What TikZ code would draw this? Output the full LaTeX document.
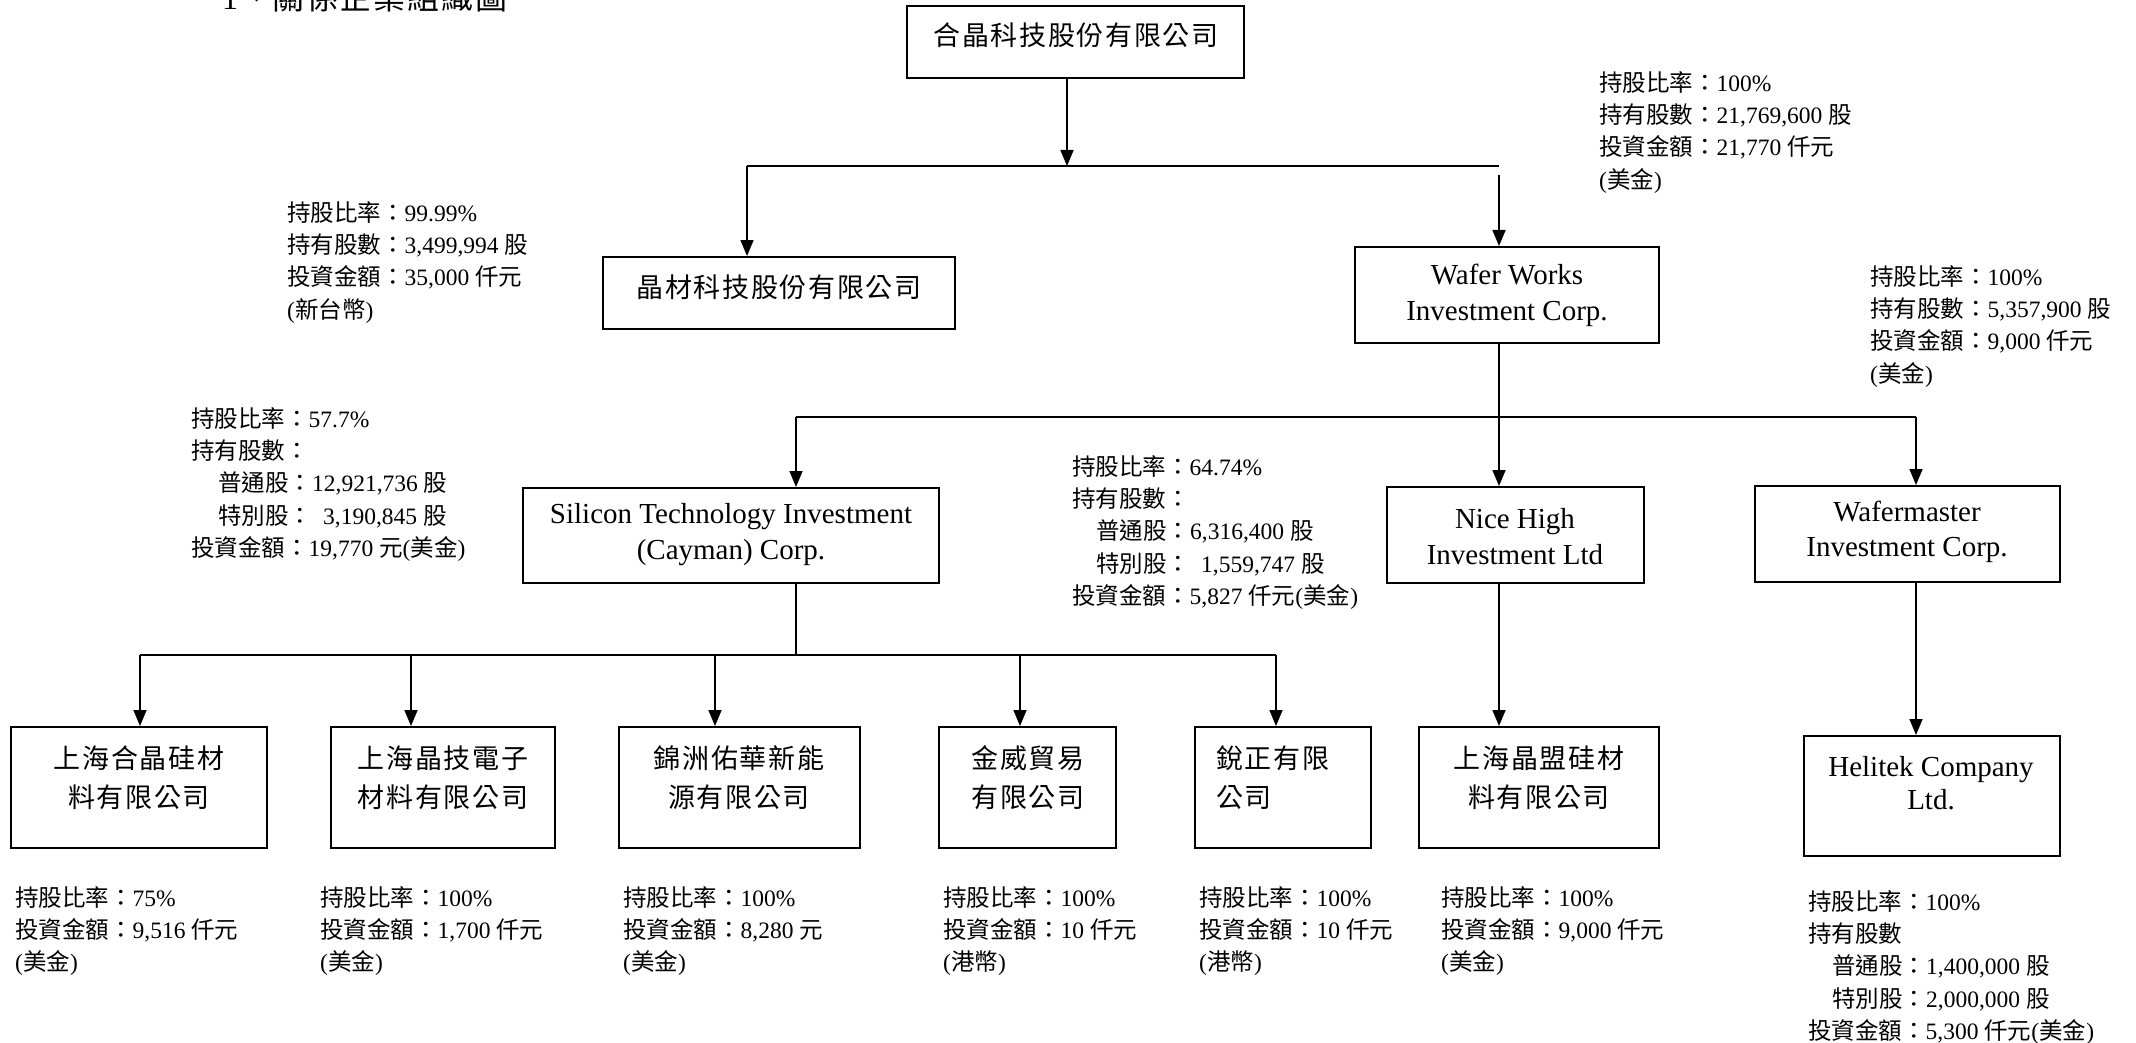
\documentclass[tikz,border=0pt]{standalone}
\usepackage{fontspec}
\setmainfont{Liberation Serif}
\newfontfamily\cjk{Noto Sans CJK TC}
\newfontfamily\cjkb[LetterSpace=6]{Noto Sans CJK TC}
\usetikzlibrary{arrows.meta}
\newcommand\zh[1]{{\cjk #1}}
\tikzset{
  box/.style={draw, line width=2pt, inner sep=0pt},
  conn/.style={line width=1.6pt},
  arr/.style={conn, -{Triangle[length=16pt,width=13pt]}},
  lab/.style={anchor=north west, inner sep=0pt, align=left, font=\fontsize{23.5}{32.3}\selectfont},
  zht/.style={inner sep=0pt, align=center, font=\cjkb\fontsize{27}{39}\selectfont},
  ent/.style={inner sep=0pt, align=center, font=\fontsize{29}{36}\selectfont},
}
\begin{document}
\begin{tikzpicture}[x=1pt,y=-1pt]
\useasboundingbox (0,0) rectangle (2136,1043);

% title
\node[anchor=base west, inner sep=0pt, font=\fontsize{32}{32}\selectfont] (title) at (222,10) {1{\cjkb 、關係企業組織圖}};

% boxes
\node[box, minimum width=337pt, minimum height=72pt] (top) at (1075.5,42) {};
\node[zht] (topt) at (1076,35) {合晶科技股份有限公司};
\node[box, minimum width=352pt, minimum height=72pt] (jc) at (779,293) {};
\node[zht] (jct) at (779,287) {晶材科技股份有限公司};
\node[box, minimum width=304pt, minimum height=96pt] (ww) at (1507,295) {};
\node[ent] (wwt) at (1507,295) {Wafer Works\\Investment Corp.};
\node[box, minimum width=416pt, minimum height=95pt] (sti) at (731,535.5) {};
\node[ent] (stit) at (731,535) {Silicon Technology Investment\\(Cayman) Corp.};
\node[box, minimum width=257pt, minimum height=96pt] (nh) at (1515.5,535) {};
\node[ent] (nht) at (1515,537) {Nice High\\Investment Ltd};
\node[box, minimum width=305pt, minimum height=96pt] (wm) at (1907.5,534) {};
\node[ent, font=\fontsize{29}{35}\selectfont] (wmt) at (1907,532) {Wafermaster\\Investment Corp.};

\node[box, minimum width=256pt, minimum height=121pt] (b1) at (139,787.5) {};
\node[zht] (b1t) at (139,777.5) {上海合晶硅材\\料有限公司};
\node[box, minimum width=224pt, minimum height=121pt] (b2) at (443,787.5) {};
\node[zht] (b2t) at (443,777.5) {上海晶技電子\\材料有限公司};
\node[box, minimum width=241pt, minimum height=121pt] (b3) at (739.5,787.5) {};
\node[zht] (b3t) at (739,777.5) {錦洲佑華新能\\源有限公司};
\node[box, minimum width=177pt, minimum height=121pt] (b4) at (1027.5,787.5) {};
\node[zht] (b4t) at (1028,777.5) {金威貿易\\有限公司};
\node[box, minimum width=176pt, minimum height=121pt] (b5) at (1283,787.5) {};
\node[zht, align=left, anchor=west] (b5t) at (1216,777.5) {銳正有限\\公司};
\node[box, minimum width=240pt, minimum height=121pt] (b6) at (1539,787.5) {};
\node[zht] (b6t) at (1539,777.5) {上海晶盟硅材\\料有限公司};
\node[box, minimum width=256pt, minimum height=120pt] (hel) at (1932,796) {};
\node[ent, font=\fontsize{29}{33}\selectfont] (helt) at (1931,783.5) {Helitek Company\\Ltd.};

% junctions
\coordinate (j0) at (1067,166);
\coordinate (jL) at (747,166);
\coordinate (jR) at (1499,166);
\coordinate (jRb) at (1499,175);
\coordinate (k0) at (1499,417);
\coordinate (kL) at (796,417);
\coordinate (kR) at (1916,417);
\coordinate (m0) at (796,655);
\coordinate (mL) at (140,655);
\coordinate (m2) at (411,655);
\coordinate (m3) at (715,655);
\coordinate (m4) at (1020,655);
\coordinate (mR) at (1276,655);

% connectors
\draw[arr] (j0 |- top.south) -- (j0);
\draw[conn] (jL) -- (jR);
\draw[arr] (jL) -- (jL |- jc.north);
\draw[arr] (jRb) -- (jRb |- ww.north);
\draw[conn] (k0 |- ww.south) -- (k0);
\draw[arr] (k0) -- (k0 |- nh.north);
\draw[conn] (kL) -- (kR);
\draw[arr] (kL) -- (kL |- sti.north);
\draw[arr] (kR) -- (kR |- wm.north);
\draw[conn] (m0 |- sti.south) -- (m0);
\draw[conn] (mL) -- (mR);
\draw[arr] (mL) -- (mL |- b1.north);
\draw[arr] (m2) -- (m2 |- b2.north);
\draw[arr] (m3) -- (m3 |- b3.north);
\draw[arr] (m4) -- (m4 |- b4.north);
\draw[arr] (mR) -- (mR |- b5.north);
\draw[arr] (k0 |- nh.south) -- (k0 |- b6.north);
\draw[arr] (kR |- wm.south) -- (kR |- hel.north);

% labels
\node[lab] (jcl) at (287,197) {\rule{0pt}{24pt}\zh{持股比率：}99.99\%\\\zh{持有股數：}3,499,994 \zh{股}\\\zh{投資金額：}35,000 \zh{仟元}\\(\zh{新台幣})};
\node[lab] (wwl) at (1599,67) {\rule{0pt}{24pt}\zh{持股比率：}100\%\\\zh{持有股數：}21,769,600 \zh{股}\\\zh{投資金額：}21,770 \zh{仟元}\\(\zh{美金})};
\node[lab] (wml) at (1870,261) {\rule{0pt}{24pt}\zh{持股比率：}100\%\\\zh{持有股數：}5,357,900 \zh{股}\\\zh{投資金額：}9,000 \zh{仟元}\\(\zh{美金})};
\node[lab] (stil) at (191,403) {\rule{0pt}{24pt}\zh{持股比率：}57.7\%\\\zh{持有股數：}\\\hspace*{27pt}\zh{普通股：}12,921,736 \zh{股}\\\hspace*{27pt}\zh{特別股：}\hspace*{11pt}3,190,845 \zh{股}\\\zh{投資金額：}19,770 \zh{元}(\zh{美金})};
\node[lab] (nhl) at (1072,451) {\rule{0pt}{24pt}\zh{持股比率：}64.74\%\\\zh{持有股數：}\\\hspace*{24pt}\zh{普通股：}6,316,400 \zh{股}\\\hspace*{24pt}\zh{特別股：}\hspace*{11pt}1,559,747 \zh{股}\\\zh{投資金額：}5,827 \zh{仟元}(\zh{美金})};
\node[lab] (b1l) at (15,882) {\rule{0pt}{24pt}\zh{持股比率：}75\%\\\zh{投資金額：}9,516 \zh{仟元}\\(\zh{美金})};
\node[lab] (b2l) at (320,882) {\rule{0pt}{24pt}\zh{持股比率：}100\%\\\zh{投資金額：}1,700 \zh{仟元}\\(\zh{美金})};
\node[lab] (b3l) at (623,882) {\rule{0pt}{24pt}\zh{持股比率：}100\%\\\zh{投資金額：}8,280 \zh{元}\\(\zh{美金})};
\node[lab] (b4l) at (943,882) {\rule{0pt}{24pt}\zh{持股比率：}100\%\\\zh{投資金額：}10 \zh{仟元}\\(\zh{港幣})};
\node[lab] (b5l) at (1199,882) {\rule{0pt}{24pt}\zh{持股比率：}100\%\\\zh{投資金額：}10 \zh{仟元}\\(\zh{港幣})};
\node[lab] (b6l) at (1441,882) {\rule{0pt}{24pt}\zh{持股比率：}100\%\\\zh{投資金額：}9,000 \zh{仟元}\\(\zh{美金})};
\node[lab] (hell) at (1808,886) {\rule{0pt}{24pt}\zh{持股比率：}100\%\\\zh{持有股數}\\\hspace*{24pt}\zh{普通股：}1,400,000 \zh{股}\\\hspace*{24pt}\zh{特別股：}2,000,000 \zh{股}\\\zh{投資金額：}5,300 \zh{仟元}(\zh{美金})};
\end{tikzpicture}
\end{document}
